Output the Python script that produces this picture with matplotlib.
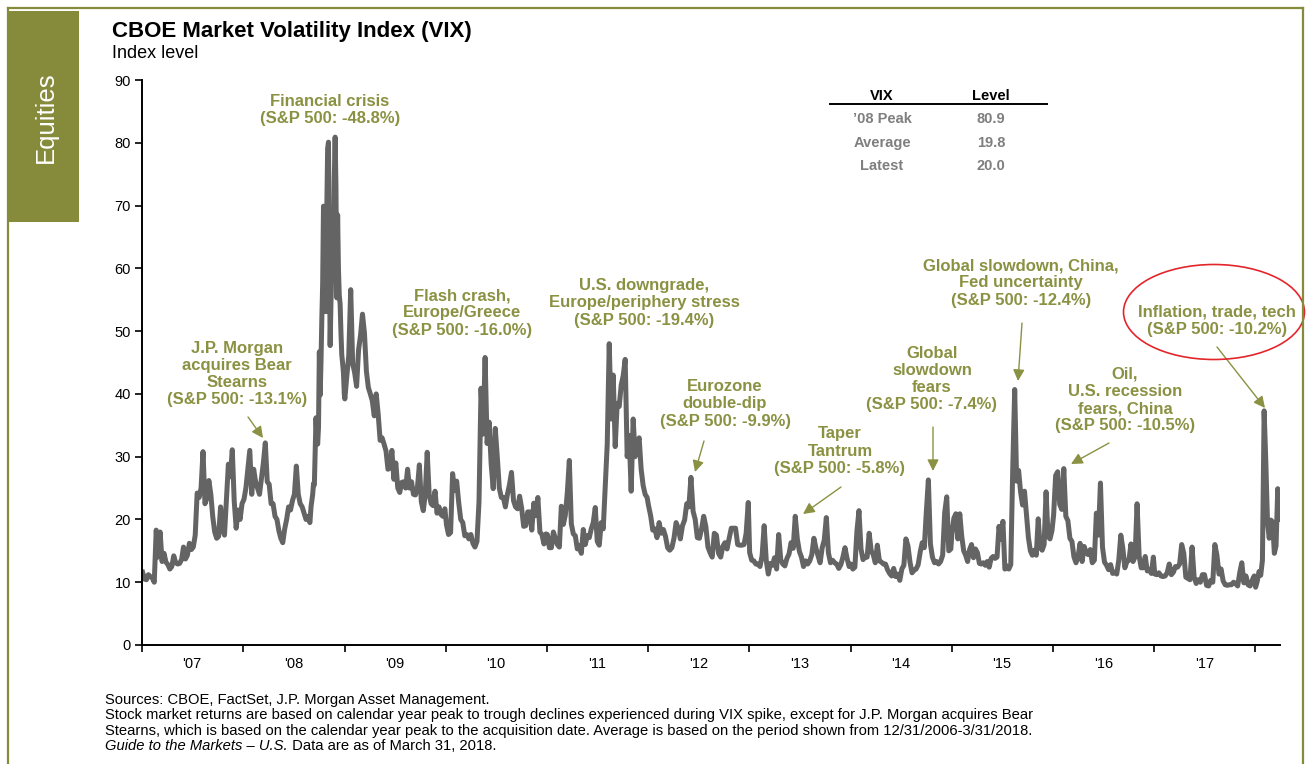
import matplotlib
matplotlib.use("Agg")
import numpy as np
import pandas as pd
import matplotlib.pyplot as plt
from matplotlib.patches import Rectangle, Ellipse
from matplotlib.lines import Line2D

plt.rcParams["font.family"] = ["Liberation Sans", "DejaVu Sans"]

W, H = 1307, 764
OLIVE = "#858b3b"
TEXT_OLIVE = "#8b9142"
LINE_GRAY = "#646464"

# VIX levels: weekly, except the autumn 2008 spike (twice a week)
vix_2007 = [11.6, 10.5, 10.4, 11.2, 10.9, 10.7, 10.0, 18.3, 14.0, 18.0, 13.3, 14.6,
            13.2, 12.8, 12.1, 12.5, 14.2, 13.1, 12.9, 13.0, 13.6, 15.6, 13.7, 14.3,
            16.2, 15.2, 15.6, 17.5, 24.2, 23.5, 25.0, 30.8, 22.5, 23.4, 26.2, 24.0,
            20.4, 18.0, 17.0, 17.3, 22.0, 18.5, 17.5, 23.2, 28.8, 26.8, 31.1, 22.9,
            18.6, 21.5, 20.0, 22.5]
vix_2008_jan_aug = [23.2, 25.0, 28.0, 31.0, 24.0, 28.0, 26.0, 25.0, 24.0, 26.5, 29.0,
                    32.2, 26.0, 25.6, 22.5, 22.5, 20.5, 20.0, 18.2, 17.0, 16.3, 18.5,
                    20.0, 22.0, 21.5, 23.0, 24.0, 28.5, 24.0, 22.5, 22.0, 21.0, 20.0,
                    20.5, 19.5]
vix_2008_sep_dec = [22.0, 23.0, 24.0, 25.7, 25.5, 31.0, 36.2, 33.0, 32.0, 34.7, 46.7,
                    39.8, 45.1, 52.0, 57.5, 69.9, 55.0, 69.3, 53.1, 69.7, 79.1, 80.1,
                    62.9, 47.7, 54.6, 59.9, 66.5, 60.0, 74.3, 80.9, 72.9, 55.3, 68.5,
                    59.9, 55.7, 54.3, 49.8, 46.2, 44.9, 43.4, 40.0]
vix_2009 = [39.2, 42.8, 46.1, 56.6, 44.8, 43.4, 41.2, 47.0, 49.3, 52.7, 49.7, 43.6,
            41.0, 40.0, 38.9, 36.5, 40.0, 36.8, 32.6, 33.0, 32.0, 30.9, 28.0, 28.2,
            31.0, 26.4, 29.0, 25.0, 24.3, 25.9, 26.0, 25.0, 28.0, 25.0, 26.0, 24.0,
            23.9, 25.0, 28.7, 22.8, 21.4, 24.0, 30.7, 24.0, 22.5, 22.2, 24.5, 21.0,
            22.0, 20.8, 20.5, 21.7]
vix_2010 = [19.1, 17.6, 17.9, 27.3, 24.6, 26.1, 22.7, 20.0, 19.5, 17.4, 17.6, 16.9,
            17.6, 16.2, 15.6, 16.5, 22.8, 40.9, 33.6, 45.8, 32.1, 35.5, 28.8, 24.9,
            34.5, 30.0, 25.0, 23.5, 23.5, 22.0, 24.0, 25.5, 27.5, 23.0, 22.0, 21.7,
            23.7, 21.8, 18.9, 19.0, 21.2, 21.2, 18.3, 22.6, 20.6, 23.5, 18.0, 17.6,
            16.1, 17.7]
vix_2011 = [17.6, 15.5, 15.5, 18.0, 17.0, 16.0, 15.6, 22.1, 19.2, 20.7, 24.3, 29.4,
            19.3, 17.7, 17.4, 15.3, 15.8, 14.6, 18.4, 16.0, 17.4, 17.1, 18.5, 19.5,
            21.9, 16.5, 15.9, 19.5, 18.5, 25.3, 32.0, 48.0, 36.0, 43.0, 31.6, 38.5,
            38.0, 41.4, 42.9, 45.5, 30.0, 33.4, 24.5, 36.0, 30.0, 32.0, 33.0, 28.0,
            25.4, 24.0, 23.5]
vix_2012 = [22.2, 20.6, 18.3, 18.5, 17.1, 19.5, 17.8, 18.4, 17.3, 15.5, 15.1, 15.5,
            17.0, 19.5, 18.6, 16.9, 19.0, 19.9, 22.5, 22.0, 26.7, 21.3, 20.0, 17.1,
            17.0, 18.5, 20.5, 18.9, 15.6, 14.7, 14.0, 17.8, 17.5, 14.6, 14.0, 15.7,
            16.3, 15.3, 17.0, 18.6, 18.6, 18.6, 16.0, 15.9, 15.9, 16.0, 17.8, 22.7]
vix_2013 = [14.7, 13.5, 13.4, 12.9, 12.9, 12.5, 14.2, 19.0, 13.5, 11.3, 13.0, 12.7,
            13.9, 12.1, 17.6, 13.6, 12.9, 12.6, 13.8, 14.5, 16.3, 15.4, 20.5, 16.9,
            14.9, 14.0, 12.5, 13.4, 12.9, 13.4, 14.4, 17.0, 15.4, 14.2, 13.1, 15.5,
            16.7, 20.3, 14.7, 13.1, 13.5, 13.1, 12.9, 12.2, 12.8, 14.0, 15.5, 13.8,
            12.5]
vix_2014 = [12.9, 12.1, 12.4, 18.1, 21.4, 15.3, 13.6, 14.0, 14.0, 17.8, 15.0, 14.4,
            13.1, 15.9, 13.4, 13.2, 12.9, 12.9, 12.0, 11.4, 11.0, 12.2, 10.9, 11.3,
            10.3, 12.1, 12.7, 16.9, 15.8, 13.2, 11.5, 11.9, 12.1, 12.8, 14.8, 16.3,
            15.5, 21.2, 26.3, 16.1, 14.0, 13.1, 13.3, 12.9, 13.3, 14.3, 21.1, 23.6,
            15.0, 15.3]
vix_2015 = [17.8, 20.2, 20.9, 16.9, 20.9, 17.3, 15.0, 14.3, 13.3, 15.2, 16.0, 13.9,
            15.3, 14.7, 13.0, 12.9, 13.1, 12.7, 13.3, 12.4, 13.8, 14.1, 13.8, 14.0,
            18.9, 16.8, 19.7, 12.1, 12.6, 12.1, 12.8, 28.0, 40.7, 26.1, 27.8, 24.4,
            22.3, 24.5, 20.9, 17.1, 15.0, 14.3, 15.1, 14.3, 20.1, 15.5, 15.1, 16.0,
            24.4, 17.3, 16.9, 18.2]
vix_2016 = [20.7, 27.0, 27.6, 22.4, 21.6, 28.1, 20.5, 19.8, 17.0, 16.5, 14.0, 13.1,
            14.1, 16.2, 13.3, 15.7, 14.7, 14.4, 15.2, 13.1, 13.5, 21.0, 17.5, 25.8,
            15.6, 13.2, 12.7, 12.0, 12.8, 11.4, 11.6, 11.3, 13.5, 17.5, 15.4, 12.3,
            13.3, 13.5, 16.1, 13.3, 14.0, 22.5, 14.2, 12.3, 12.3, 14.1, 11.8, 12.0,
            11.4, 14.0]
vix_2017 = [11.3, 11.2, 11.5, 11.0, 10.9, 11.0, 11.5, 12.9, 11.2, 11.6, 12.5, 12.4,
            12.9, 16.0, 14.6, 10.8, 10.6, 10.4, 15.6, 10.8, 9.8, 10.4, 10.0, 11.2,
            11.2, 9.5, 9.4, 10.3, 10.0, 16.0, 14.3, 11.3, 12.1, 10.2, 9.6, 9.5,
            9.6, 9.6, 10.0, 9.8, 9.4, 11.5, 13.1, 9.9, 11.0, 9.6, 9.4, 10.3, 11.0]
vix_2018 = [9.2, 10.2, 11.7, 11.1, 13.5, 37.3, 29.1, 19.5, 17.0, 19.9, 19.6, 14.6,
            15.8, 24.9, 20.0]

# (first date, last date, values) for each stretch of readings
segments = [
    ("2007-01-03", "2007-12-28", vix_2007),
    ("2008-01-04", "2008-08-29", vix_2008_jan_aug),
    ("2008-09-02", "2008-12-31", vix_2008_sep_dec),
    ("2009-01-02", "2009-12-29", vix_2009),
    ("2010-01-04", "2010-12-29", vix_2010),
    ("2011-01-03", "2011-12-29", vix_2011),
    ("2012-01-03", "2012-12-28", vix_2012),
    ("2013-01-02", "2013-12-27", vix_2013),
    ("2014-01-02", "2014-12-29", vix_2014),
    ("2015-01-02", "2015-12-29", vix_2015),
    ("2016-01-04", "2016-12-29", vix_2016),
    ("2017-01-03", "2017-12-28", vix_2017),
    ("2018-01-02", "2018-03-29", vix_2018),
]

year_labels = ["'07", "'08", "'09", "'10", "'11", "'12", "'13", "'14", "'15", "'16", "'17"]

table_rows = ["\u201908 Peak", "Average", "Latest"]
table_levels = ["80.9", "19.8", "20.0"]

# (text, centre x, centre y, arrow tail, arrow head) in figure pixels from top-left
events = [
    ("Financial crisis\n(S&P 500: -48.8%)", 330, 110, None, None),
    ("J.P. Morgan\nacquires Bear\nStearns\n(S&P 500: -13.1%)", 237, 374, (248, 417), (263, 438)),
    ("Flash crash,\nEurope/Greece\n(S&P 500: -16.0%)", 462, 313, None, None),
    ("U.S. downgrade,\nEurope/periphery stress\n(S&P 500: -19.4%)", 644, 303, None, None),
    ("Eurozone\ndouble-dip\n(S&P 500: -9.9%)", 725, 404, (704, 441), (695, 472)),
    ("Taper\nTantrum\n(S&P 500: -5.8%)", 840, 451, (841, 487), (803, 514)),
    ("Global\nslowdown\nfears\n(S&P 500: -7.4%)", 932, 379, (933, 427), (933, 471)),
    ("Global slowdown, China,\nFed uncertainty\n(S&P 500: -12.4%)", 1021, 283, (1022, 323), (1018, 381)),
    ("Oil,\nU.S. recession\nfears, China\n(S&P 500: -10.5%)", 1125, 400, (1109, 443), (1071, 464)),
    ("Inflation, trade, tech\n(S&P 500: -10.2%)", 1217, 321, (1217, 347), (1265, 408)),
]

footnotes = [
    "Sources: CBOE, FactSet, J.P. Morgan Asset Management.",
    "Stock market returns are based on calendar year peak to trough declines experienced during VIX spike, except for J.P. Morgan acquires Bear",
    "Stearns, which is based on the calendar year peak to the acquisition date. Average is based on the period shown from 12/31/2006-3/31/2018.",
]


def fx(x):
    return x / W


def fy(y):
    return 1 - y / H


dates, values = [], []
for start, end, vals in segments:
    dates.extend(pd.date_range(start, end, periods=len(vals)))
    values.extend(vals)

fig = plt.figure(figsize=(W / 100, H / 100), dpi=100)

# frame and side tab
for xs, ys in [((8, 1303), (8, 8)), ((8, 8), (8, 764)), ((1303, 1303), (8, 764))]:
    fig.add_artist(Line2D([fx(x) for x in xs], [fy(y) for y in ys], color=OLIVE, lw=1.6))
fig.add_artist(Rectangle((fx(8), fy(222)), (79 - 8) / W, (222 - 11) / H,
                         facecolor=OLIVE, edgecolor="none"))
fig.text(fx(46), fy(117), "Equities", rotation=90, color="white", fontsize=18.5,
         ha="center", va="center")

fig.text(fx(112), fy(31), "CBOE Market Volatility Index (VIX)", fontsize=16,
         fontweight="bold", ha="left", va="center")
fig.text(fx(112), fy(54), "Index level", fontsize=13, ha="left", va="center")

ax = fig.add_axes([fx(142), fy(645), (1280 - 142) / W, (645 - 80) / H])
ax.plot(dates, values, color=LINE_GRAY, lw=3.6)

ax.set_xlim(pd.Timestamp("2007-01-01"), pd.Timestamp("2018-03-31"))
ax.set_ylim(0, 90)
ax.set_yticks(range(0, 91, 10))
ax.set_xticks(pd.date_range("2007-01-01", "2018-01-01", freq="YS"))
ax.set_xticklabels([])
ax.set_xticks(pd.date_range("2007-07-01", "2017-07-01", freq="12MS"), minor=True)
ax.set_xticklabels(year_labels, minor=True)
ax.tick_params(axis="x", which="major", length=5, width=1.2, direction="out")
ax.tick_params(axis="x", which="minor", length=0, pad=9, labelsize=10.5)
ax.tick_params(axis="y", length=5, width=1.2, pad=3, labelsize=10.5)
for side in ("top", "right"):
    ax.spines[side].set_visible(False)
for side in ("left", "bottom"):
    ax.spines[side].set_linewidth(1.4)

# event labels
for label, cx, cy, tail, head in events:
    fig.text(fx(cx), fy(cy), label, ha="center", va="center", fontsize=12,
             fontweight="bold", color=TEXT_OLIVE, linespacing=1.18)
    if tail is not None:
        ax.annotate("", xy=(fx(head[0]), fy(head[1])), xytext=(fx(tail[0]), fy(tail[1])),
                    xycoords="figure fraction", textcoords="figure fraction",
                    annotation_clip=False,
                    arrowprops=dict(arrowstyle="-|>", color=TEXT_OLIVE, lw=1,
                                    shrinkA=0, shrinkB=0, mutation_scale=17))

fig.add_artist(Ellipse((fx(1214), fy(312)), 181 / W, 95 / H, transform=fig.transFigure,
                       fill=False, edgecolor="#e3262b", lw=1.2))

# summary table
fig.text(fx(882), fy(96), "VIX", fontsize=10.5, fontweight="bold", ha="center", va="center")
fig.text(fx(991), fy(96), "Level", fontsize=10.5, fontweight="bold", ha="center", va="center")
fig.add_artist(Line2D([fx(830), fx(1047)], [fy(104), fy(104)], color="black", lw=1.4))
for i, (name, level) in enumerate(zip(table_rows, table_levels)):
    y = 119 + i * 23.7
    fig.text(fx(882), fy(y), name, fontsize=10.5, fontweight="bold", color="#7f7f7f",
             ha="center", va="center")
    fig.text(fx(991), fy(y), level, fontsize=10.5, fontweight="bold", color="#7f7f7f",
             ha="center", va="center")

# footnotes
for i, line in enumerate(footnotes):
    fig.text(fx(105), fy(700 + i * 15.3), line, fontsize=10.6, ha="left", va="center")
it = fig.text(fx(105), fy(746), "Guide to the Markets \u2013 U.S.", fontsize=10.6,
              style="italic", ha="left", va="center")
renderer = fig.canvas.get_renderer()
x_end = it.get_window_extent(renderer).x1
fig.text(x_end / W, fy(746), " Data are as of March 31, 2018.", fontsize=10.6,
         ha="left", va="center")

fig.savefig("out.png", dpi=100)
